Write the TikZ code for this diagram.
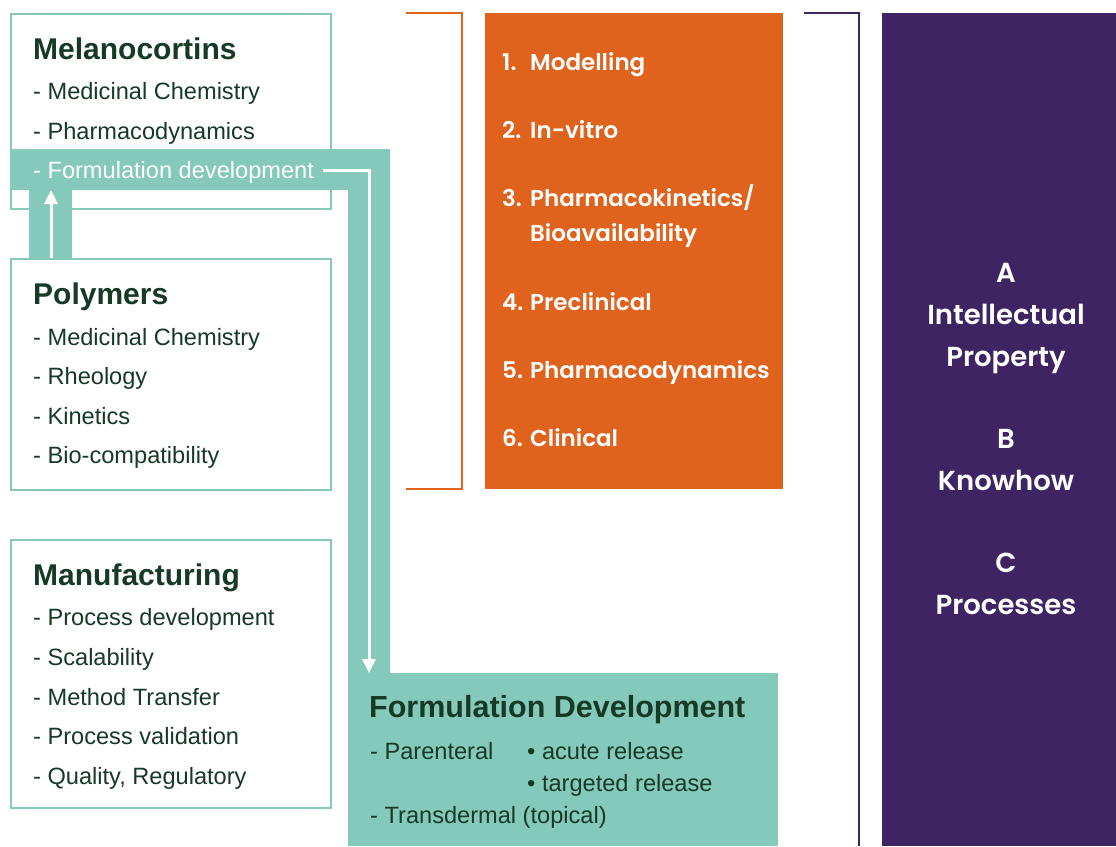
\documentclass[tikz,border=0pt]{standalone}
\usepackage{fontspec}
\setmainfont{Liberation Sans}
\newfontfamily\popfont{Poppins SemiBold}
\usetikzlibrary{arrows.meta}
\definecolor{tealc}{HTML}{84C9BA}
\definecolor{dgreen}{HTML}{163A26}
\definecolor{orng}{HTML}{DF621D}
\definecolor{purp}{HTML}{3E2462}
\tikzset{
  outbox/.style={draw=tealc, line width=2pt, fill=white, inner sep=0pt, anchor=north west},
  ttl/.style={anchor=base west, inner sep=0pt, text=dgreen, font=\fontsize{30}{32}\selectfont\bfseries},
  itm/.style={anchor=base west, inner sep=0pt, text=dgreen, font=\fontsize{23.6}{26}\selectfont},
  otxt/.style={anchor=base west, inner sep=0pt, text=white, font=\popfont\fontsize{23}{25}\selectfont},
  ptxt/.style={anchor=base, inner sep=0pt, text=white, font=\popfont\fontsize{27.5}{30}\selectfont},
  wline/.style={draw=white, line width=3pt},
  wtip/.style={-{Triangle[length=14pt,width=13pt]}},
  brk/.style={line width=2pt}
}
\begin{document}
\begin{tikzpicture}[x=1pt,y=-1pt]
\useasboundingbox (0,0) rectangle (1116,846);
% boxes
\node[outbox, minimum width=320pt, minimum height=195pt] (mel) at (10,13) {};
\node[outbox, minimum width=320pt, minimum height=231pt] (poly) at (10,258) {};
\node[outbox, minimum width=320pt, minimum height=268pt] (manu) at (10,539) {};
% teal band and connector bar
\fill[tealc] (10,149) -- (390,149) -- (390,673) -- (348,673) -- (348,190) -- (10,190) -- cycle;
\fill[tealc] (29,189) rectangle (72,258);
\node[fill=tealc, inner sep=0pt, anchor=north west, minimum width=430pt, minimum height=173pt] (fd) at (348,673) {};
% orange and purple
\node[fill=orng, inner sep=0pt, anchor=north west, minimum width=298pt, minimum height=476pt] (ob) at (485,13) {};
\node[fill=purp, inner sep=0pt, anchor=north west, minimum width=234pt, minimum height=833pt] (pb) at (882,13) {};
\coordinate (ob1) at (406,13); \coordinate (ob2) at (462,13);
\coordinate (ob3) at (462,489); \coordinate (ob4) at (406,489);
\draw[brk, orng] (ob1) -- (ob2) -- (ob3) -- (ob4);
\coordinate (pb1) at (804,13); \coordinate (pb2) at (859,13); \coordinate (pb3) at (859,846);
\draw[brk, purp] (pb1) -- (pb2) -- (pb3);
% Melanocortins
\node[ttl] (melt) at (33,59) {Melanocortins};
\node[itm] (mel1) at (33,99) {- Medicinal Chemistry};
\node[itm] (mel2) at (33,139) {- Pharmacodynamics};
\node[itm, text=white] (mel3) at (33,178) {- Formulation development};
% Polymers
\node[ttl] (polyt) at (33,304) {Polymers};
\node[itm] (p1) at (33,345) {- Medicinal Chemistry};
\node[itm] (p2) at (33,384) {- Rheology};
\node[itm] (p3) at (33,424) {- Kinetics};
\node[itm] (p4) at (33,463) {- Bio-compatibility};
% Manufacturing
\node[ttl] (manut) at (33,585) {Manufacturing};
\node[itm] (m1) at (33,625) {- Process development};
\node[itm] (m2) at (33,665) {- Scalability};
\node[itm] (m3) at (33,705) {- Method Transfer};
\node[itm] (m4) at (33,744) {- Process validation};
\node[itm] (m5) at (33,784) {- Quality, Regulatory};
% Formulation Development
\node[ttl, font=\fontsize{30.5}{32}\selectfont\bfseries] (fdt) at (369,717) {Formulation Development};
\node[itm] (f1) at (370,759) {- Parenteral};
\node[itm] (f2) at (527,759) {• acute release};
\node[itm] (f3) at (527,791) {• targeted release};
\node[itm] (f4) at (370,823) {- Transdermal (topical)};
% arrows
\coordinate (a1) at (51,258); \coordinate (a2) at (51,190);
\draw[wline, wtip] (a1) -- (a2);
\coordinate (b1) at (323,170); \coordinate (b2) at (369,170); \coordinate (b3) at (369,673);
\draw[wline, wtip] (b1) -- (b2) -- (b3);
% orange list
\foreach \n/\t/\y in {1./Modelling/70, 2./In-vitro/138, 3./Pharmacokinetics\slash/206, 4./Preclinical/310, 5./Pharmacodynamics/378, 6./Clinical/446}{
  \node[otxt] at (502,\y) {\n};
  \node[otxt] at (530,\y) {\t};
}
\node[otxt] (o3b) at (530,241) {Bioavailability};
% purple list
\node[ptxt] (pa) at (1006,282) {A};
\node[ptxt] (pa2) at (1006,324) {Intellectual};
\node[ptxt] (pa3) at (1006,366) {Property};
\node[ptxt] (pbb) at (1006,448) {B};
\node[ptxt] (pb2) at (1006,490) {Knowhow};
\node[ptxt] (pc) at (1006,572) {C};
\node[ptxt] (pc2) at (1006,614) {Processes};
\end{tikzpicture}
\end{document}
